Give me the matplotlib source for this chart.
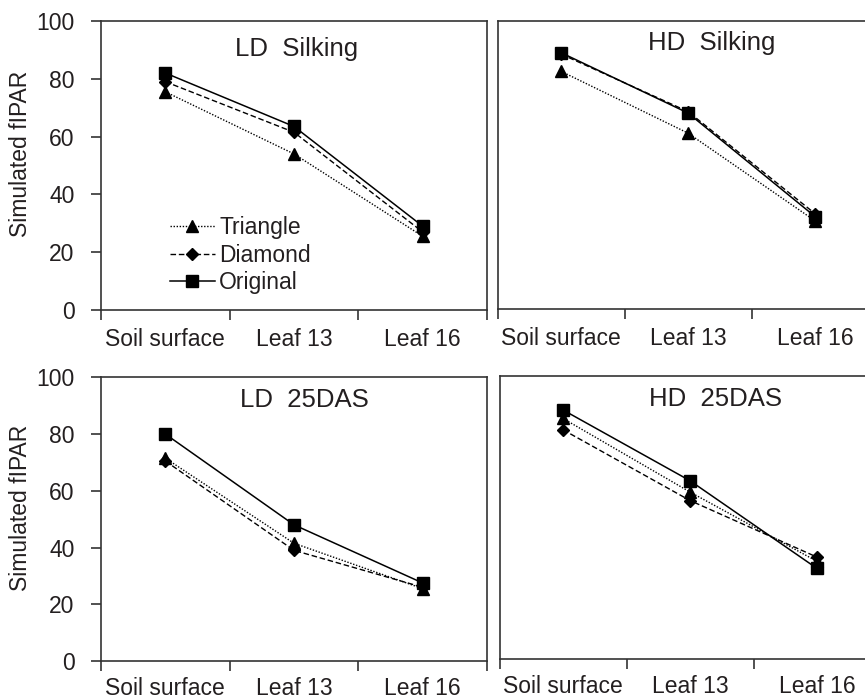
import matplotlib
matplotlib.use("Agg")
import matplotlib.pyplot as plt

plt.rcParams['font.family'] = ['Liberation Sans', 'DejaVu Sans']

# Canopy positions (x categories)
positions = ["Soil surface", "Leaf 13", "Leaf 16"]
series_names = ["Triangle", "Diamond", "Original"]

# Simulated fIPAR (%) per panel: Triangle, Diamond, Original
ld_silking_triangle = [75.5, 54, 25.5]
ld_silking_diamond = [79, 61.5, 27]
ld_silking_original = [82, 63.5, 29]

hd_silking_triangle = [82.5, 61, 30.5]
hd_silking_diamond = [88.5, 68.5, 33]
hd_silking_original = [89, 68, 32]

ld_25das_triangle = [71.5, 41.5, 25.5]
ld_25das_diamond = [70.5, 39, 26]
ld_25das_original = [80, 48, 27.5]

hd_25das_triangle = [85, 59, 34.5]
hd_25das_diamond = [81, 56, 36]
hd_25das_original = [88, 63, 32]

panel_titles = ["LD  Silking", "HD  Silking", "LD  25DAS", "HD  25DAS"]
y_ticks = [0, 20, 40, 60, 80, 100]
y_label = "Simulated fIPAR"

panels = [
    (ld_silking_triangle, ld_silking_diamond, ld_silking_original),
    (hd_silking_triangle, hd_silking_diamond, hd_silking_original),
    (ld_25das_triangle, ld_25das_diamond, ld_25das_original),
    (hd_25das_triangle, hd_25das_diamond, hd_25das_original),
]

W, H = 865, 700
fig = plt.figure(figsize=(W / 100, H / 100), dpi=100)

# axes rectangles in pixels: left, top, right, bottom
rects_px = [
    (101, 21, 487, 310),
    (497.5, 21, 878.5, 308.5),
    (101, 377.3, 487, 661),
    (499.5, 376, 880.5, 659),
]
title_x = [1.52, 1.69, 1.58, 1.70]
title_y = [90.3, 92.5, 92, 92]
label_pad = [13, 13, 11.5, 11.5]

ink = "#231f20"
spine_c = "#333333"

styles = [
    dict(marker="^", ms=9, linestyle=(0, (1, 1.2)), lw=1.0),
    dict(marker="D", ms=6, linestyle=(0, (4, 2)), lw=1.0),
    dict(marker="s", ms=9, linestyle="-", lw=1.1),
]

xc = [0.5, 1.5, 2.5]
fs = 16.5

for i, (rect, data) in enumerate(zip(rects_px, panels)):
    l, t, r, b = rect
    ax = fig.add_axes([l / W, (H - b) / H, (r - l) / W, (b - t) / H])
    for name, vals, st in zip(series_names, data, styles):
        ax.plot(xc, vals, color="black", mfc="black", mec="black",
                label=name, **st)
    ax.set_xlim(0, 3)
    ax.set_ylim(0, 100)
    ax.set_xticks([0, 1, 2, 3])
    ax.set_xticklabels([])
    ax.set_xticks(xc, minor=True)
    ax.set_xticklabels(positions, minor=True, fontsize=fs, color=ink)
    ax.tick_params(axis="x", which="major", direction="out", length=7,
                   width=1.2, color=spine_c)
    ax.tick_params(axis="x", which="minor", length=0, pad=label_pad[i])
    for sp in ax.spines.values():
        sp.set_color(spine_c)
        sp.set_linewidth(1.2)
    if i % 2 == 0:
        ax.set_yticks(y_ticks)
        ax.tick_params(axis="y", direction="out", length=7, width=1.2,
                       color=spine_c, labelsize=fs, labelcolor=ink, pad=12)
        ax.set_ylabel(y_label, fontsize=fs, color=ink)
        ax.yaxis.set_label_coords(-0.18, 0.54)
    else:
        ax.set_yticks([])
    ax.text(title_x[i], title_y[i], panel_titles[i], fontsize=18.5, color=ink,
            ha="center", va="center")
    if i == 0:
        leg = ax.legend(loc="center left", bbox_to_anchor=(0.179, 0.19),
                        frameon=False, fontsize=fs, handlelength=1.95,
                        handletextpad=0.2, labelspacing=0.18,
                        borderpad=0, borderaxespad=0)
        for txt in leg.get_texts():
            txt.set_color(ink)

fig.savefig("out.png", dpi=100)
